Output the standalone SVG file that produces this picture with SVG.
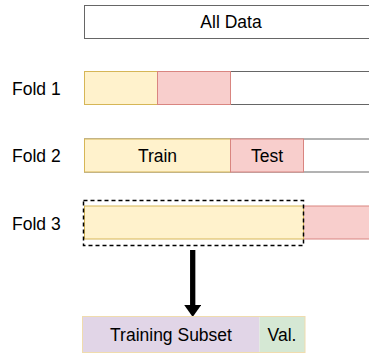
<svg xmlns="http://www.w3.org/2000/svg" width="369" height="354" viewBox="0 0 369 354">
<defs>
<style>
text{font-family:"Liberation Sans",Arial,sans-serif;font-size:17.5px;fill:#000}
.c{text-anchor:middle}
.w{fill:#fff;stroke:#666;stroke-width:1}
.y{fill:#fff2cc;stroke:#d6b656;stroke-width:1}
.r{fill:#f8cecc;stroke:#d98580;stroke-width:1}
.p{fill:#e1d5e7;stroke:none}
.g{fill:#d5e8d4;stroke:none}
</style>
<marker id="ah" viewBox="0 0 12 17" refX="0" refY="8.5" markerUnits="userSpaceOnUse" markerWidth="12" markerHeight="17" orient="auto">
<path d="M0,0 L12,8.5 L0,17 Z" fill="#000"/>
</marker>
</defs>
<rect width="369" height="354" fill="#fff"/>
<g id="all-data">
<rect class="w" x="84.5" y="5.5" width="300" height="33"/>
<text class="c" x="231" y="27.5">All Data</text>
</g>
<g id="fold1">
<text x="12" y="95">Fold 1</text>
<rect class="w" x="84.5" y="71.5" width="300" height="33"/>
<rect class="y" x="84.5" y="71.5" width="73" height="33"/>
<rect class="r" x="157.5" y="71.5" width="73" height="33"/>
</g>
<g id="fold2">
<text x="12" y="162">Fold 2</text>
<rect class="w" x="84.5" y="139" width="300" height="33"/>
<rect class="y" x="84.5" y="139" width="146" height="33"/>
<rect class="r" x="230.5" y="139" width="73" height="33"/>
<text class="c" x="157.5" y="162">Train</text>
<text class="c" x="267" y="162">Test</text>
</g>
<g id="fold3">
<text x="12" y="229.5">Fold 3</text>
<rect class="r" x="303.5" y="206" width="80" height="33"/>
<rect class="y" x="84.5" y="206" width="219" height="33"/>
<rect x="83.5" y="200.5" width="220" height="45" fill="none" stroke="#000" stroke-width="1.5" stroke-dasharray="4 3"/>
</g>
<g id="connectors">
<line x1="192.7" y1="250" x2="192.7" y2="305" stroke="#000" stroke-width="5.3" marker-end="url(#ah)"/>
</g>
<g id="split">
<rect class="p" x="82.5" y="316.5" width="177" height="36"/>
<rect class="g" x="259.5" y="316.5" width="45.5" height="36"/>
<rect x="82.5" y="316.5" width="222.5" height="36" fill="none" stroke="#f0dcae" stroke-width="1"/>
<text class="c" x="171" y="340.5">Training Subset</text>
<text class="c" x="282" y="340.5">Val.</text>
</g>
</svg>
